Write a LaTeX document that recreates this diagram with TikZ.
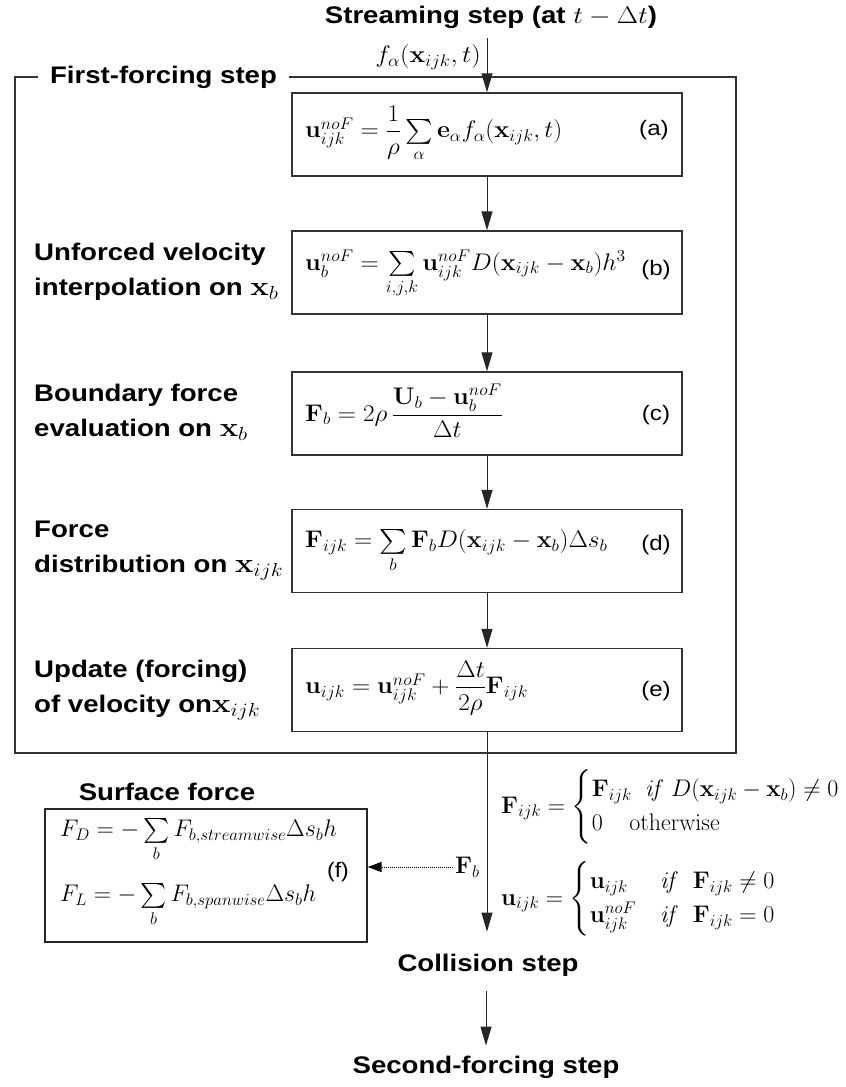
\RequirePackage{fix-cm}
\documentclass[tikz,border=0pt]{standalone}
\usepackage{amsmath}
\usepackage[no-math]{fontspec}
\setmainfont{Liberation Sans}
\usetikzlibrary{arrows.meta}
\newcommand{\lblmath}[1]{{\fontsize{27}{30}\selectfont$#1$}}
\tikzset{
  lbl/.style={font=\fontsize{24}{35}\selectfont\bfseries, align=left, inner sep=0pt, xscale=1.15},
  ttl/.style={font=\fontsize{24}{28}\selectfont\bfseries, inner sep=0pt, xscale=1.15},
  stepbox/.style={draw=black!80, line width=1.4pt, minimum width=390pt, minimum height=83pt, inner sep=0pt},
  eq/.style={font=\normalfont\fontsize{24}{28}\selectfont, inner sep=0pt, anchor=west},
  beq/.style={eq, xscale=1.05},
  tag/.style={font=\normalfont\mdseries\fontsize{21}{25}\selectfont, inner sep=0pt, xscale=1.15},
  arr/.style={-{Triangle[length=19pt,width=11pt]}, line width=1pt, draw=black!85},
  frame/.style={draw=black!80, line width=1.4pt},
}
\begin{document}
\begin{tikzpicture}[x=1pt,y=-1pt]
\useasboundingbox (0,0) rectangle (846,1087);
% frame
\draw[frame] (15,77) rectangle (736,753);
\node[ttl, fill=white, inner xsep=10.5pt, inner ysep=3pt] (ffs) at (163.5,77) {First-forcing step};
% title
\node[ttl] (stream) at (491,17) {Streaming step (at $t-\Delta t$)};
\node[eq, anchor=east, xscale=1.1] (flab) at (481,57) {$f_\alpha(\mathbf{x}_{ijk},t)$};
% boxes
\node[stepbox] (a) at (487,134.5) {};
\node[stepbox] (b) at (487,272.5) {};
\node[stepbox] (c) at (487,413.5) {};
\node[stepbox] (d) at (487,551) {};
\node[stepbox] (e) at (487,690) {};
% formulas
\node[beq] (fa) at (305,134) {$\mathbf{u}_{ijk}^{noF}=\dfrac{1}{\rho}\sum\limits_{\alpha}\mathbf{e}_\alpha f_\alpha(\mathbf{x}_{ijk},t)$};
\node[beq] (fb) at (305,274) {$\mathbf{u}_{b}^{noF}=\sum\limits_{i,j,k}\mathbf{u}_{ijk}^{noF}D(\mathbf{x}_{ijk}-\mathbf{x}_b)h^3$};
\node[beq] (fc) at (305,411) {$\mathbf{F}_{b}=2\rho\,\dfrac{\mathbf{U}_b-\mathbf{u}_b^{noF}}{\Delta t}$};
\node[beq] (fd) at (305,551) {$\mathbf{F}_{ijk}=\sum\limits_{b}\mathbf{F}_b D(\mathbf{x}_{ijk}-\mathbf{x}_b)\Delta s_b$};
\node[beq] (fe) at (305,688) {$\mathbf{u}_{ijk}=\mathbf{u}_{ijk}^{noF}+\dfrac{\Delta t}{2\rho}\mathbf{F}_{ijk}$};
\node[tag] (ta) at (654,130) {(a)};
\node[tag] (tb) at (656,270) {(b)};
\node[tag] (tc) at (656,415) {(c)};
\node[tag] (td) at (656,545) {(d)};
\node[tag] (te) at (656,691) {(e)};
% left labels
\node[lbl, anchor=west] (lb) at (34,272) {Unforced velocity\\interpolation on \lblmath{\mathbf{x}_b}};
\node[lbl, anchor=west] (lc) at (34,412) {Boundary force\\evaluation on \lblmath{\mathbf{x}_b}};
\node[lbl, anchor=west] (ld) at (34,551) {Force\\distribution on \lblmath{\mathbf{x}_{ijk}}};
\node[lbl, anchor=west] (le) at (34,690) {Update (forcing)\\of velocity on\lblmath{\mathbf{x}_{ijk}}};
% bottom part
\node[ttl] (col) at (488,965) {Collision step};
\node[ttl] (sec) at (486,1067) {Second-forcing step};
\node[ttl] (sft) at (167,792) {Surface force};
\node[draw=black!85, line width=1.2pt, minimum width=322pt, minimum height=133pt, inner sep=0pt] (f) at (206,875.5) {};
\node[eq] (fD) at (60,840) {$F_D=-\sum\limits_{b}F_{b,streamwise}\Delta s_b h$};
\node[eq] (fL) at (60,905) {$F_L=-\sum\limits_{b}F_{b,spanwise}\Delta s_b h$};
\node[tag, xscale=0.95] (tf) at (338,872) {(f)};
\node[eq] (Fb) at (455,867) {$\mathbf{F}_b$};
\node[eq] (cF) at (501,807) {$\mathbf{F}_{ijk}=\begin{cases}\mathbf{F}_{ijk}\;\;\mathit{if}\;D(\mathbf{x}_{ijk}-\mathbf{x}_b)\neq 0\\ 0\;\;\;\;\mathrm{otherwise}\end{cases}$};
\node[eq] (cu) at (501,899) {$\mathbf{u}_{ijk}=\begin{cases}\mathbf{u}_{ijk} & \mathit{if}\;\;\mathbf{F}_{ijk}\neq 0\\ \mathbf{u}_{ijk}^{noF} & \mathit{if}\;\;\mathbf{F}_{ijk}=0\end{cases}$};
% connectors
\draw[arr] (stream.south -| a.north) ++(0,10) -- (a.north);
\draw[arr] (a) -- (b);
\draw[arr] (b) -- (c);
\draw[arr] (c) -- (d);
\draw[arr] (d) -- (e);
\draw[arr, shorten >=22pt] (e.south) -- (e.south |- col.north);
\draw[arr, shorten <=15pt, shorten >=10pt] (col.south -| sec.north) -- (sec.north);
\draw[-{Triangle[length=14pt,width=10pt]}, line width=1pt, densely dotted, shorten <=2pt] (Fb.west) -- (f.east |- Fb.west);
\end{tikzpicture}
\end{document}
